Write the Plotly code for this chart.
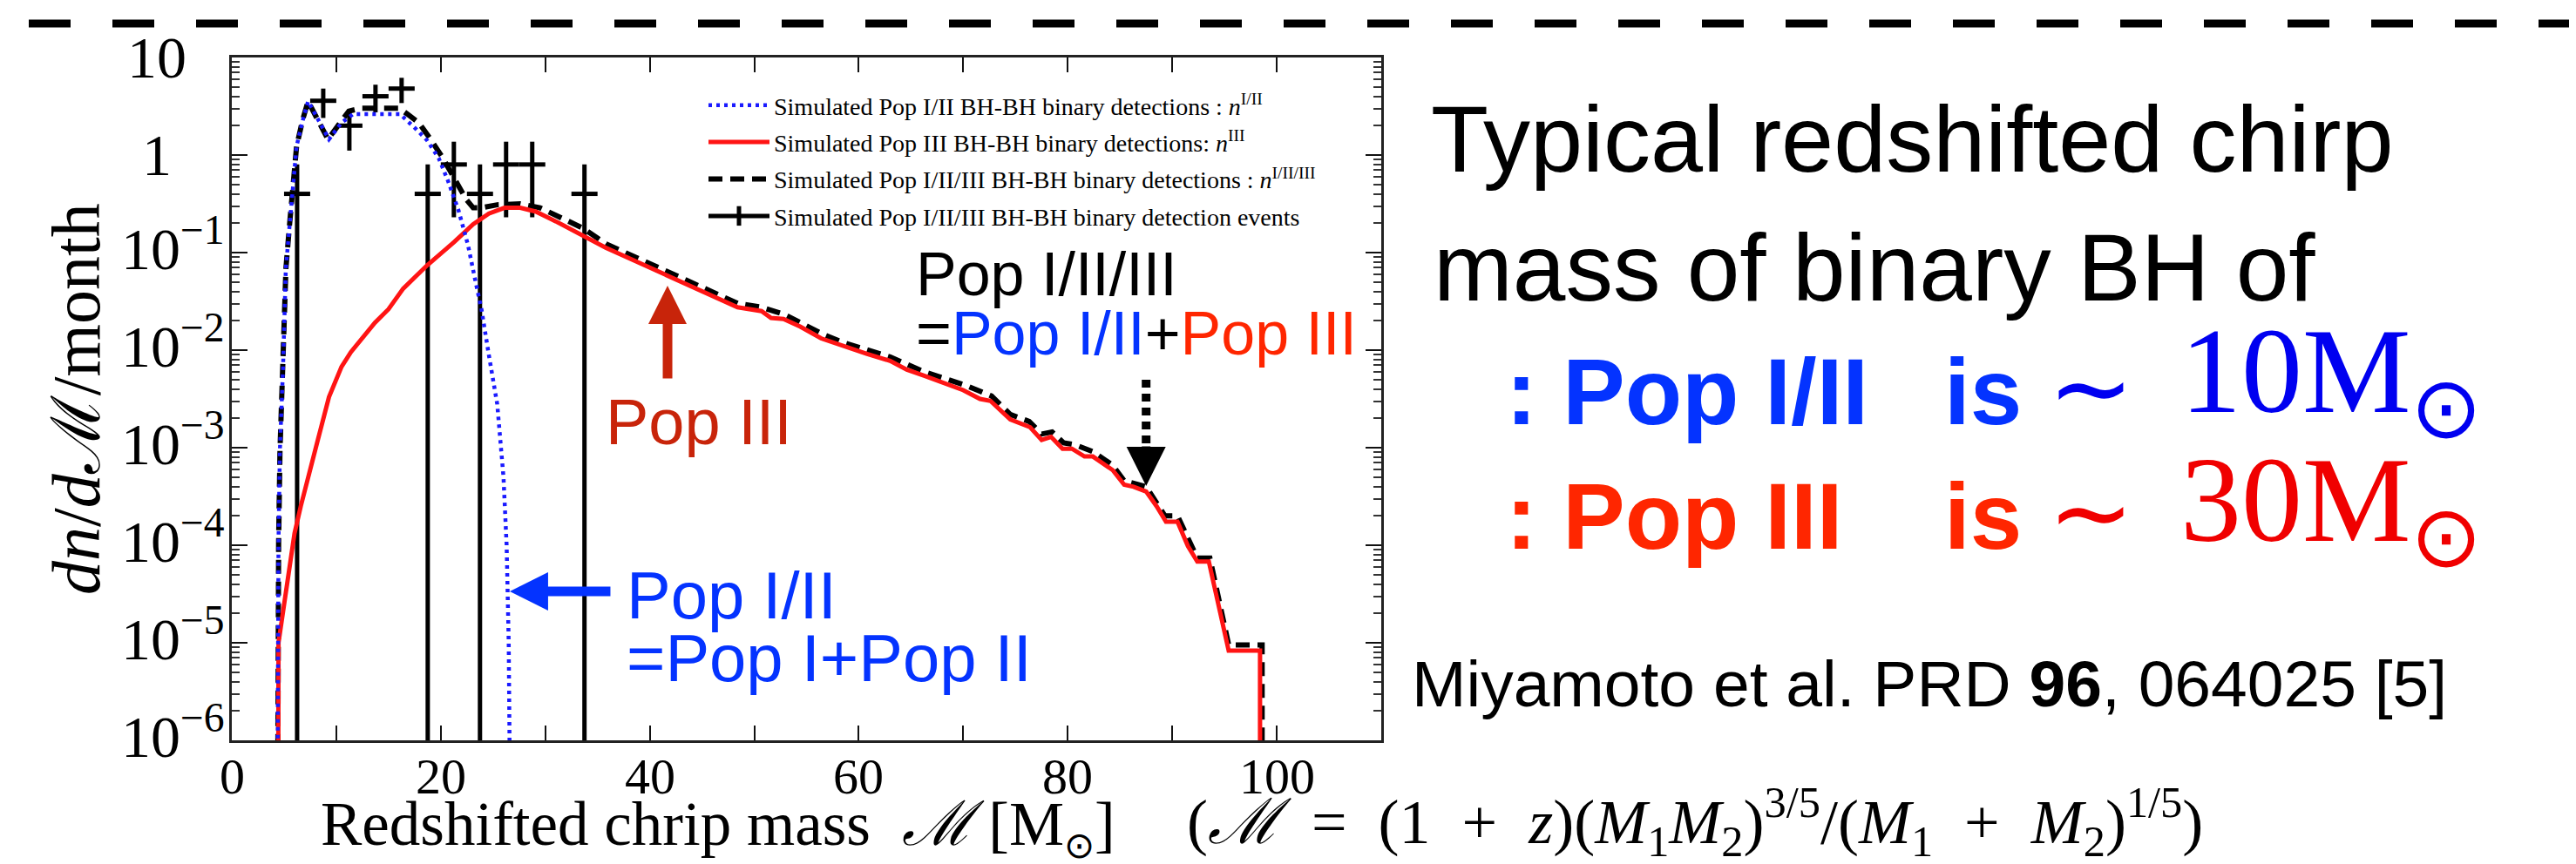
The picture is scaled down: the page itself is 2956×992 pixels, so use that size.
import plotly.graph_objects as go

# ---------------- data ----------------
pop12_mass = [4.38, 4.40, 4.47, 4.60, 4.90, 5.17, 5.50, 6.20, 6.80, 7.30, 9.30, 10.5, 11.6, 16.1,
              17.6, 18.7, 19.8, 20.7, 21.7, 22.6, 23.3, 23.9, 24.6, 25.4, 26.0, 26.3, 26.5, 26.6]
pop12_rate = [5e-7, 1.2e-5, 1.1e-4, 9.3e-4, 6.5e-3, 0.069, 0.18, 1.23, 2.29, 3.55, 1.45, 2.14, 2.63, 2.63,
              1.86, 1.41, 0.93, 0.54, 0.27, 0.12, 0.052, 0.026, 0.0089, 0.0028, 5.0e-4, 1.0e-4, 1.0e-5, 5e-7]

pop3_mass = [4.45, 4.47, 6.0, 6.6, 8.4, 9.3, 10.5, 11.4, 13.7, 15.0, 16.4, 18.7, 21.3, 23.1, 24.6, 26.1,
             27.6, 29.1, 31.0, 33.6, 35.8, 39.5, 43.2, 48.4, 50.7, 51.6, 52.8, 54.4, 56.4, 58.5, 60.8,
             63.0, 64.6, 66.2, 68.4, 70.0, 71.6, 72.6, 74.5, 76.4, 77.5, 78.4, 79.5, 80.4, 81.6, 82.4,
             84.3, 85.4, 86.3, 87.5, 88.5, 89.4, 90.5, 91.5, 92.4, 93.5, 95.4, 98.4, 98.4]
pop3_rate = [5e-7, 1.0e-5, 1.32e-4, 2.51e-4, 1.41e-3, 3.31e-3, 6.76e-3, 9.55e-3, 0.0191, 0.0263, 0.0427,
             0.0741, 0.129, 0.195, 0.251, 0.288, 0.288, 0.263, 0.209, 0.148, 0.112, 0.0741, 0.0490,
             0.0275, 0.0251, 0.0214, 0.0209, 0.0174, 0.0132, 0.0110, 0.00912, 0.00776, 0.00631,
             0.00550, 0.00447, 0.00389, 0.00316, 0.00302, 0.00195, 0.00162, 0.00120, 0.00129,
             0.000977, 0.000977, 0.000813, 0.000813, 0.000589, 0.000417, 0.000398, 0.000355,
             0.000251, 0.000174, 0.000174, 9.8e-5, 6.8e-5, 6.8e-5, 8.3e-6, 8.3e-6, 5e-7]

total_mass = [4.40, 4.42, 4.48, 4.61, 4.91, 5.18, 5.52, 6.2, 6.8, 7.3, 9.2, 10.5, 11.2, 12.4, 16.0,
              16.8, 17.9, 19.1, 20.2, 21.3, 22.4, 23.1, 23.9, 25.4, 27.6, 29.5, 31.3, 33.6, 35.8,
              39.5, 43.2, 48.4, 50.7, 52.8, 56.6, 58.5, 63.0, 66.2, 70.2, 72.7, 74.5, 76.3, 77.5,
              78.5, 79.6, 80.7, 82.4, 84.3, 85.4, 87.5, 89.3, 90.5, 92.4, 93.6, 95.4, 98.6, 98.6]
total_rate = [5e-7, 1.26e-5, 1.07e-4, 9.3e-4, 6.5e-3, 0.069, 0.19, 1.23, 2.34, 3.55, 1.45, 2.29, 2.82,
              3.02, 3.02, 2.63, 2.14, 1.41, 0.93, 0.575, 0.355, 0.288, 0.288, 0.309, 0.316, 0.288,
              0.234, 0.178, 0.123, 0.0813, 0.0537, 0.0302, 0.0275, 0.0234, 0.0145, 0.0120, 0.00851,
              0.00603, 0.00437, 0.00339, 0.00219, 0.00186, 0.00138, 0.00145, 0.00112, 0.00107,
              0.000912, 0.000661, 0.000457, 0.000398, 0.000200, 0.000200, 7.4e-5, 7.4e-5, 9.5e-6,
              9.5e-6, 5e-7]

event_mass = [6.25, 8.75, 11.25, 13.75, 16.25, 18.75, 21.25, 23.75, 26.25, 28.75, 33.75]
event_rate = [0.4, 3.6, 2.0, 4.0, 4.8, 0.4, 0.8, 0.4, 0.8, 0.8, 0.4]
event_err_up = [0.4, 1.2, 0.89, 1.26, 1.39, 0.4, 0.57, 0.4, 0.57, 0.57, 0.4]
event_err_down = [0.3999995, 1.2, 0.89, 1.26, 1.39, 0.3999995, 0.57, 0.3999995, 0.57, 0.57, 0.3999995]
event_half_bin = 1.25

x_tick_vals = [0, 10, 20, 30, 40, 50, 60, 70, 80, 90, 100, 110]
x_tick_text = ["0", "", "20", "", "40", "", "60", "", "80", "", "100", ""]
y_tick_exp = [1, 0, -1, -2, -3, -4, -5, -6]
y_tick_text = ["10", "1", "10<sup>−1</sup>", "10<sup>−2</sup>", "10<sup>−3</sup>",
               "10<sup>−4</sup>", "10<sup>−5</sup>", "10<sup>−6</sup>"]

legend_names = [
    "Simulated Pop I/II BH-BH binary detections : <i>n</i><sup>I/II</sup>",
    "Simulated Pop III BH-BH binary detections: <i>n</i><sup>III</sup>",
    "Simulated Pop I/II/III BH-BH binary detections : <i>n</i><sup>I/II/III</sup>",
    "Simulated Pop I/II/III BH-BH binary detection events",
]

# ---------------- geometry helpers ----------------
W, H = 2956, 992
L, R, T, B = 258, 1577, 58, 842
SANS = "Liberation Sans"
SERIF = "Liberation Serif"
BLUE_TXT = "#0433ff"
RED_TXT = "#ff2600"
DARKRED = "#c8240a"
EN = "\u2002"


def px(x):
    return (x - L) / (R - L)


def py(y):
    return (B - y) / (B - T)


fig = go.Figure()

# events (error bars)
fig.add_trace(go.Scatter(
    x=event_mass, y=event_rate, mode="markers",
    marker=dict(size=2, color="black", opacity=0),
    error_x=dict(type="constant", value=event_half_bin, width=0, thickness=5, color="black"),
    error_y=dict(type="data", array=event_err_up, arrayminus=event_err_down, symmetric=False,
                 width=0, thickness=5, color="black"),
    showlegend=False, hoverinfo="skip"))
# legend stand-in for events
fig.add_trace(go.Scatter(
    x=[None], y=[None], mode="lines+markers", name=legend_names[3],
    line=dict(color="black", width=5),
    marker=dict(symbol="line-ns-open", size=30, color="black", line=dict(width=5, color="black")),
    legendrank=4, legendgroup="g4"))
# total (black dashed)
fig.add_trace(go.Scatter(
    x=total_mass, y=total_rate, mode="lines", name=legend_names[2],
    line=dict(color="black", width=6, dash="16px,9px"), legendrank=3, legendgroup="g3"))
# Pop III (red)
fig.add_trace(go.Scatter(
    x=pop3_mass, y=pop3_rate, mode="lines", name=legend_names[1],
    line=dict(color="#ff1414", width=5), legendrank=2, legendgroup="g2"))
# Pop I/II (blue dotted)
fig.add_trace(go.Scatter(
    x=pop12_mass, y=pop12_rate, mode="lines", name=legend_names[0],
    line=dict(color="#1a1aff", width=4.5, dash="4px,5px"), legendrank=1, legendgroup="g1"))

fig.update_layout(
    width=W, height=H,
    margin=dict(l=L, r=W - R, t=T, b=H - B, pad=0),
    paper_bgcolor="white", plot_bgcolor="white",
    showlegend=True,
    legend=dict(x=px(800), y=py(88), xanchor="left", yanchor="top",
                font=dict(family=SERIF, size=28, color="black"),
                bgcolor="rgba(0,0,0,0)", itemwidth=70, tracegroupgap=3,
                traceorder="grouped"),
    xaxis=dict(range=[0, 110], tickmode="array", tickvals=x_tick_vals,
               ticks="inside", ticklen=17, tickwidth=2, tickcolor="#111",
               showline=True, linewidth=3, linecolor="#222", mirror="ticks",
               showgrid=False, zeroline=False, showticklabels=False),
    yaxis=dict(type="log", range=[-6, 1], tickmode="linear", tick0=0, dtick=1,
               ticks="inside", ticklen=18, tickwidth=2, tickcolor="#111",
               minor=dict(ticks="inside", ticklen=9, tickwidth=1.5, tickcolor="#333", dtick="D1"),
               showline=True, linewidth=3, linecolor="#222", mirror="ticks",
               showgrid=False, zeroline=False, showticklabels=False),
)

# x tick labels
for v, t in zip(x_tick_vals, x_tick_text):
    if t:
        fig.add_annotation(x=v, y=py(883), xref="x", yref="paper", text=t, showarrow=False,
                           xanchor="center", yanchor="middle",
                           font=dict(family=SERIF, size=58, color="black"))

# y tick labels
for e, t in zip(y_tick_exp, y_tick_text):
    if e >= 0:
        fig.add_annotation(x=px(172), y=e, xref="paper", yref="y", text=t, showarrow=False,
                           xanchor="center", yanchor="middle",
                           font=dict(family=SERIF, size=68, color="black"))
    else:
        fig.add_annotation(x=px(252), y=e, xref="paper", yref="y", text=t, showarrow=False,
                           xanchor="right", yanchor="middle", yshift=9,
                           font=dict(family=SERIF, size=68, color="black"))


def text_at(txt, x, base, size, color="black", family=SANS, k=0.215):
    fig.add_annotation(x=px(x), y=py(base + k * size + 1), xref="paper", yref="paper",
                       text=txt, showarrow=False, xanchor="left", yanchor="bottom",
                       font=dict(family=family, size=size, color=color))


# axis titles
fig.add_annotation(x=px(79), y=py(450), xref="paper", yref="paper", textangle=-90,
                   text="<i>dn</i>/<i>d</i>ℳ/month", showarrow=False,
                   xanchor="center", yanchor="middle",
                   font=dict(family=SERIF, size=78, color="black"))
text_at("Redshifted chrip mass" + EN + "<i>ℳ</i> [M<sub><span style='font-size:42px'>⊙</span></sub>]",
        358, 972, 71, family=SERIF)
text_at("(<i>ℳ</i>" + EN + "=" + EN + "(1" + EN + "+" + EN + "<i>z</i>)(<i>M</i><sub>1</sub><i>M</i><sub>2</sub>)"
        "<sup>3/5</sup>/(<i>M</i><sub>1</sub>" + EN + "+" + EN + "<i>M</i><sub>2</sub>)<sup>1/5</sup>)",
        1352, 972, 72, family=SERIF)

# in-plot labels
text_at("Pop I/II/III", 1041, 332, 70)
text_at("=<span style='color:%s'>Pop I/II</span>+<span style='color:%s'>Pop III</span>"
        % (BLUE_TXT, RED_TXT), 1041, 400, 70)
text_at("Pop III", 685, 503, 74, color=DARKRED)
text_at("Pop I/II", 709, 703, 76, color=BLUE_TXT)
text_at("=Pop I+Pop II", 709, 775, 76, color=BLUE_TXT)

# right-hand text
text_at("Typical redshifted chirp", 1632, 190, 108)
text_at("mass of binary BH of", 1635, 338, 109)
text_at("<b>: Pop I/II</b>", 1718, 480, 107, color=BLUE_TXT)
text_at("<b>is</b>", 2221, 480, 107, color=BLUE_TXT)
text_at("∼", 2340, 480, 118, color="#0000f0", family=SERIF)
text_at("10M<sub>⊙</sub>", 2492, 486, 140, color="#0000f0", family=SERIF)
text_at("<b>: Pop III</b>", 1718, 623, 107, color=RED_TXT)
text_at("<b>is</b>", 2221, 623, 107, color=RED_TXT)
text_at("∼", 2340, 623, 118, color="#f00000", family=SERIF)
text_at("30M<sub>⊙</sub>", 2492, 634, 140, color="#f00000", family=SERIF)
text_at("Miyamoto et al. PRD <b>96</b>, 064025 [5]", 1610, 804, 75)

# arrows
fig.add_annotation(x=41.7, y=py(320), xref="x", yref="paper", ax=0, ay=108, text="",
                   showarrow=True, arrowhead=2, arrowwidth=11, arrowsize=0.8, arrowcolor=DARKRED)
fig.add_annotation(x=26.6, y=py(671), xref="x", yref="paper", ax=117, ay=0, text="",
                   showarrow=True, arrowhead=2, arrowwidth=11, arrowsize=0.8, arrowcolor=BLUE_TXT)
fig.add_shape(type="line", xref="x", yref="paper", x0=87.5, x1=87.5, y0=py(428), y1=py(506),
              line=dict(color="black", width=10, dash="9px,7px"))
fig.add_annotation(x=87.5, y=py(550), xref="x", yref="paper", ax=0, ay=-47, text="",
                   showarrow=True, arrowhead=2, arrowwidth=10, arrowsize=0.9, arrowcolor="black")

# top dashed separator
fig.add_shape(type="line", xref="paper", yref="paper", x0=px(25), x1=px(2956), y0=py(19), y1=py(19),
              line=dict(color="black", width=9, dash="48px,48px"))

fig.write_html("out.html")
